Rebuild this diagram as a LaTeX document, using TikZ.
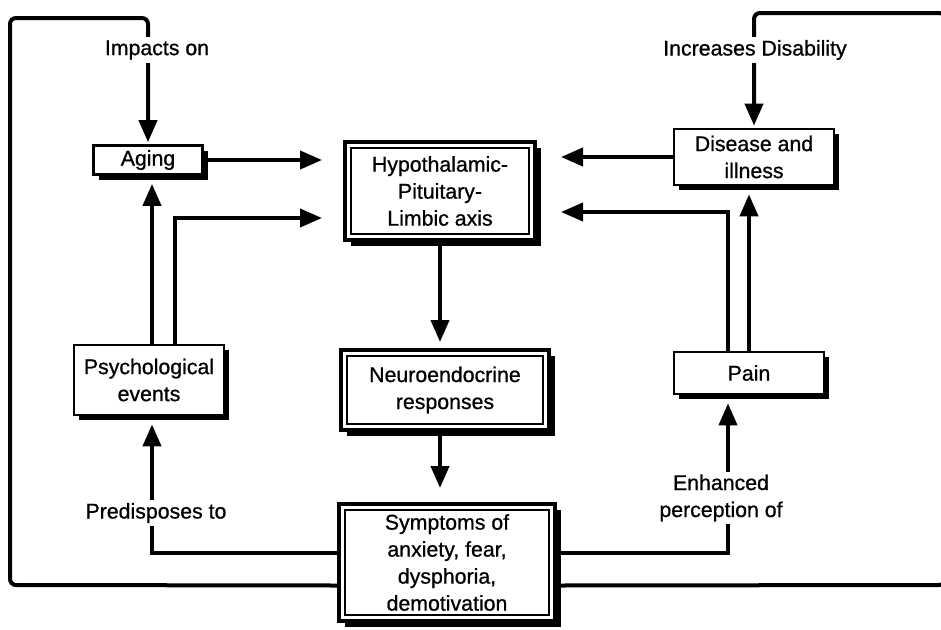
\documentclass[tikz,border=0pt]{standalone}
\usepackage{fontspec}
\setmainfont{Liberation Sans}[FakeBold=0.8]
\usetikzlibrary{arrows.meta,shadows,calc}

\begin{document}
\begin{tikzpicture}[x=1pt,y=-1pt,
  every node/.style={font=\fontsize{21.3}{27}\selectfont, align=center, inner sep=0pt},
  plainbox/.style={draw, line width=2.7pt, fill=white,
    drop shadow={shadow xshift=5pt, shadow yshift=-5pt, fill=black, opacity=1}},
  dblbox/.style={draw, line width=4pt, fill=white,
    drop shadow={shadow xshift=6pt, shadow yshift=-6pt, fill=black, opacity=1}},
  innerline/.style={line width=2pt},
  link/.style={line width=4pt, -{Triangle[length=22pt,width=18pt]}},
  loop/.style={link, rounded corners=6pt},
  tag/.style={fill=white, inner sep=3pt}]

% canvas
\fill[white] (0,0) rectangle (941,629);
\useasboundingbox (0,0) rectangle (941,629);

% boxes
\node[plainbox, minimum width=109pt, minimum height=29pt] (aging) at (148,160) {Aging};
\node[dblbox, minimum width=190pt, minimum height=98pt] (hpl) at (440,191) {Hypothalamic-\\Pituitary-\\Limbic axis};
\node[dblbox, minimum width=208pt, minimum height=80pt] (neuro) at (445,390) {Neuroendocrine\\responses};
\node[dblbox, minimum width=216pt, minimum height=117pt] (symp) at (447,562.5) {Symptoms of\\anxiety, fear,\\dysphoria,\\demotivation};
\node[plainbox, minimum width=160pt, minimum height=56pt] (dis) at (754,157) {Disease and\\illness};
\node[plainbox, minimum width=150pt, minimum height=70pt] (psy) at (149,380) {Psychological\\events};
\node[plainbox, minimum width=150pt, minimum height=42pt] (pain) at (749,373) {Pain};

% second, thinner frame inside the central boxes
\foreach \b in {hpl,neuro,symp}
  \draw[innerline] ($(\b.north west)+(8,8)$) rectangle ($(\b.south east)+(-8,-8)$);

% inputs to the axis
\draw[link, shorten >=21pt] (aging.east) -- (aging.east -| hpl.west);
\draw[link, shorten >=21pt] ([xshift=26pt]psy.north) |- ($(hpl.west)+(0,27)$);
\draw[link] ([xshift=3pt]psy.north) -- ($([xshift=3pt]psy.north |- aging.south)+(0,8)$);
\draw[link, shorten >=24pt] (dis.west) -- (dis.west -| hpl.east);
\draw[link, shorten >=24pt] ([xshift=-21pt]pain.north) |- ($(hpl.east)+(0,21)$);
\draw[link] (pain.north) -- ($(pain.north |- dis.south)+(0,8)$);

% central chain
\draw[link, shorten >=6pt] (hpl.south) -- (hpl.south |- neuro.north);
\draw[link, shorten >=14pt] (hpl.south |- neuro.south) -- (hpl.south |- symp.north);

% symptoms feeding back
\draw[link] ($(symp.west)+(0,-10)$) -| ($([xshift=3pt]psy.south)+(0,8)$);
\node[tag] (predis) at (156,513) {Predisposes to};
\draw[link] ($(symp.east)+(0,-10)$) -| ($([xshift=-21pt]pain.south)+(0,8)$);
\node[tag] (enh) at (721,498) {Enhanced\\perception of};

% outer loops
\coordinate (lb) at (10,585);
\coordinate (lt) at (10,18);
\draw[loop, shorten >=2pt] ($(symp.west)+(0,23)$) -- (lb) -- (lt) -| (aging.north);
\node[tag] (imp) at (157,50) {Impacts on};
\coordinate (rb) at (945,585);
\coordinate (rt) at (945,13);
\draw[loop, shorten >=2pt] ($(symp.east)+(0,23)$) -- (rb) -- (rt) -| (dis.north);
\node[tag] (incr) at (755,50) {Increases Disability};
\end{tikzpicture}
\end{document}
